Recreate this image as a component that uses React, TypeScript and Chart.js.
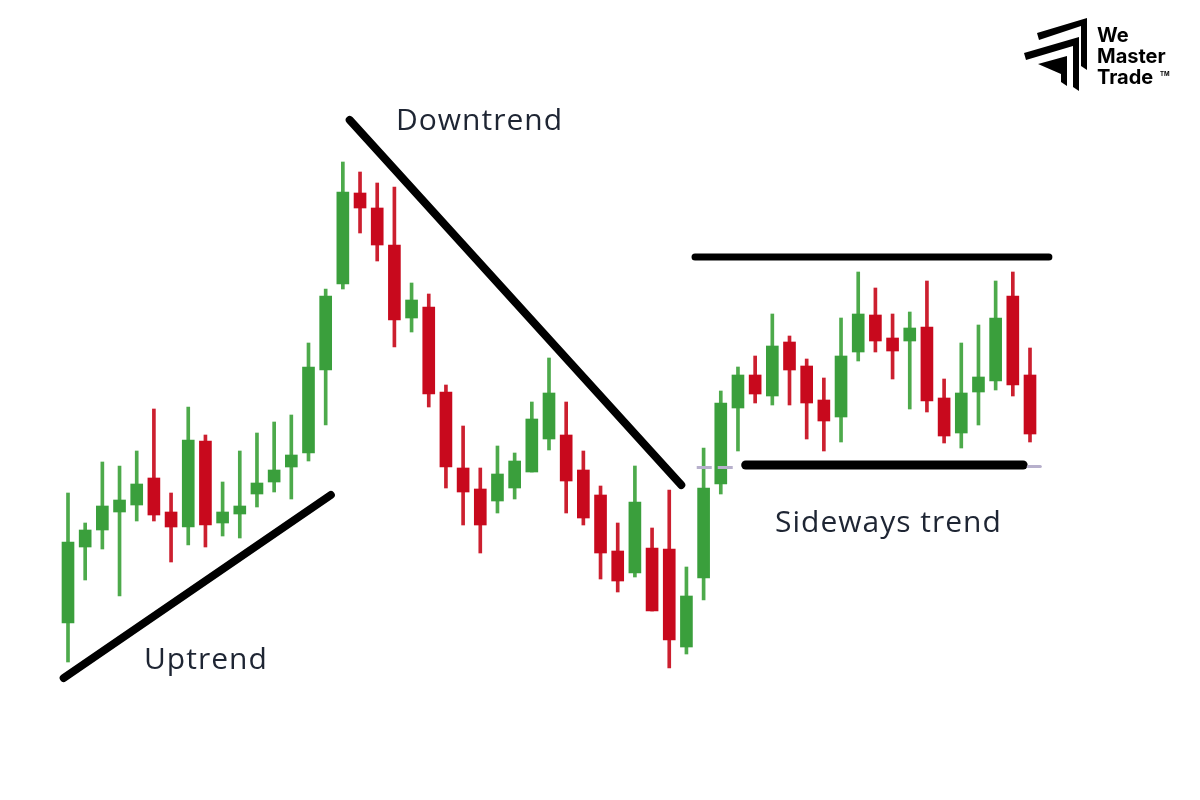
import { useEffect, useRef } from 'react';
import { Chart, registerables } from 'chart.js';

Chart.register(...registerables);

// ---- Data (price units) ----
const candleIndex: number[] = Array.from({ length: 57 }, (_, i) => i + 1);

const opens: number[] = [
  15.4, 30.6, 34.0, 37.6, 39.0, 44.4, 37.6, 34.6, 51.8, 35.4,
  37.2, 41.2, 43.6, 46.6, 49.4, 66.0, 83.2, 101.4, 98.4, 91.0,
  76.4, 78.6, 61.6, 46.4, 42.2, 39.8, 42.4, 45.6, 52.2, 53.0,
  46.0, 41.0, 29.8, 25.4, 30.4, 30.2, 10.6, 24.4, 43.2, 58.4,
  65.0, 60.8, 71.6, 66.8, 60.0, 56.6, 69.6, 77.0, 72.4, 71.8,
  74.6, 60.4, 53.4, 61.6, 63.8, 80.8, 65.0,
];
const closes: number[] = [
  31.6, 34.0, 38.8, 40.0, 43.2, 37.0, 34.6, 52.0, 35.0, 37.6,
  38.8, 43.4, 46.0, 49.0, 66.6, 80.8, 101.6, 98.4, 91.0, 76.0,
  80.0, 61.2, 46.6, 41.6, 35.0, 45.2, 47.8, 56.2, 61.4, 43.8,
  36.4, 29.4, 23.8, 39.6, 17.8, 12.0, 20.8, 42.4, 59.4, 65.0,
  61.2, 70.8, 66.0, 59.4, 55.8, 68.8, 77.2, 71.8, 69.8, 74.4,
  59.8, 52.8, 61.4, 64.6, 76.4, 63.0, 53.2,
];
const highs: number[] = [
  41.4, 35.4, 47.6, 46.8, 49.8, 58.2, 41.4, 58.6, 53.0, 43.6,
  49.8, 53.4, 55.6, 57.0, 71.4, 82.2, 107.6, 105.6, 103.4, 102.6,
  83.4, 81.2, 63.0, 54.8, 46.4, 50.8, 49.4, 59.6, 68.4, 59.6,
  49.8, 42.8, 35.4, 46.8, 34.4, 42.0, 26.6, 50.4, 61.8, 66.6,
  68.8, 77.2, 72.8, 68.2, 64.4, 76.4, 85.6, 82.4, 77.2, 77.6,
  83.8, 64.2, 71.4, 75.0, 83.8, 85.6, 70.4,
];
const lows: number[] = [
  7.6, 24.0, 30.2, 20.8, 35.8, 35.8, 27.6, 31.0, 30.6, 32.8,
  32.4, 38.6, 41.6, 40.2, 47.8, 55.0, 82.2, 93.4, 87.8, 70.6,
  73.6, 58.6, 42.4, 35.0, 29.4, 37.4, 40.2, 45.6, 50.0, 37.4,
  35.0, 24.2, 21.6, 24.6, 17.8, 6.4, 9.2, 20.0, 41.2, 49.8,
  59.4, 59.0, 59.0, 52.2, 49.8, 51.6, 67.8, 69.6, 64.2, 58.2,
  57.6, 51.4, 50.4, 55.0, 62.0, 60.8, 51.6,
];

// Trend lines: [startIndex, startPrice, endIndex, endPrice]
const uptrendLine: number[] = [0.75, 4.4, 16.3, 41.0];
const downtrendLine: number[] = [17.4, 116.0, 36.7, 43.0];
const resistanceLine: number[] = [37.5, 88.6, 58.1, 88.6];
const supportLine: number[] = [40.45, 47.0, 56.6, 47.0];
const guideDashesA: number[] = [37.6, 46.5, 39.7, 46.5];
const guideDashesB: number[] = [56.9, 46.7, 57.6, 46.7];

const labelTexts: string[] = ['Uptrend', 'Downtrend', 'Sideways trend'];
const logoWords: string[] = ['We', 'Master', 'Trade'];

const GREEN = '#3a9f3c';
const RED = '#c8091d';
const GREEN_WICK = '#4daa4b';
const RED_WICK = '#cc1f2f';

const seg = (s: number[]) => [
  { x: s[0], y: s[1] },
  { x: s[2], y: s[3] },
];

const overlayPlugin = {
  id: 'overlay',
  afterDatasetsDraw(chart: any) {
    const ctx: CanvasRenderingContext2D = chart.ctx;
    ctx.save();
    // trend labels
    ctx.fillStyle = '#1e2533';
    ctx.font = '30px "Open Sans"';
    (ctx as any).letterSpacing = '1px';
    ctx.textAlign = 'left';
    ctx.textBaseline = 'alphabetic';
    const labelPos = [
      [144, 669],
      [396, 130],
      [775, 532],
    ];
    labelTexts.forEach((t, i) => ctx.fillText(t, labelPos[i][0], labelPos[i][1]));

    // logo icon
    ctx.fillStyle = '#000';
    const poly = (pts: number[][]) => {
      ctx.beginPath();
      ctx.moveTo(pts[0][0], pts[0][1]);
      for (let i = 1; i < pts.length; i++) ctx.lineTo(pts[i][0], pts[i][1]);
      ctx.closePath();
      ctx.fill();
    };
    poly([[1037, 33], [1087, 18], [1087, 70], [1081, 66], [1081, 26], [1039, 40]]);
    poly([[1024, 53], [1079, 37], [1079, 91], [1073, 87], [1073, 46], [1026, 60]]);
    poly([[1038, 64], [1067, 56], [1067, 86], [1061, 82], [1061, 74]]);

    // logo text
    (ctx as any).letterSpacing = '0px';
    ctx.font = 'bold 20px Inter';
    ctx.fillText(logoWords[0], 1097, 42);
    ctx.fillText(logoWords[1], 1097, 63);
    ctx.fillText(logoWords[2], 1097, 84);
    ctx.font = 'bold 6px Inter';
    ctx.fillText('TM', 1160, 76);
    ctx.restore();
  },
};

export default function App() {
  const ref = useRef<HTMLCanvasElement | null>(null);

  useEffect(() => {
    if (!ref.current) return;
    const isUp = candleIndex.map((_, i) => closes[i] >= opens[i]);
    const lineDs = (s: number[], width: number, color = '#000', dash: number[] = []) => ({
      type: 'line' as const,
      data: seg(s),
      borderColor: color,
      borderWidth: width,
      borderCapStyle: dash.length ? ('butt' as const) : ('round' as const),
      borderDash: dash,
      pointRadius: 0,
      fill: false,
      order: 0,
    });
    const chart = new Chart(ref.current, {
      type: 'bar',
      data: {
        datasets: [
          {
            type: 'bar',
            data: candleIndex.map((x, i) => ({ x, y: [lows[i], highs[i]] })) as any,
            backgroundColor: isUp.map((u) => (u ? GREEN_WICK : RED_WICK)),
            barThickness: 3,
            grouped: false,
            borderWidth: 0,
            order: 2,
          } as any,
          {
            type: 'bar',
            data: candleIndex.map((x, i) => ({ x, y: [opens[i], closes[i]] })) as any,
            backgroundColor: isUp.map((u) => (u ? GREEN : RED)),
            barThickness: 12,
            grouped: false,
            borderWidth: 0,
            order: 1,
          } as any,
          lineDs(guideDashesA, 3, '#b7b0cc', [15, 6]) as any,
          lineDs(guideDashesB, 3, '#b7b0cc') as any,
          lineDs(uptrendLine, 8) as any,
          lineDs(downtrendLine, 8) as any,
          lineDs(resistanceLine, 7) as any,
          lineDs(supportLine, 9) as any,
        ],
      },
      options: {
        responsive: false,
        animation: false,
        devicePixelRatio: 1,
        layout: { padding: 0 },
        plugins: {
          legend: { display: false },
          tooltip: { enabled: false },
          title: { display: false },
        },
        scales: {
          x: { type: 'linear', display: false, offset: false, min: -2.9584, max: 66.896 },
          y: { type: 'linear', display: false, min: -20, max: 140 },
        },
      },
      plugins: [overlayPlugin],
    });
    return () => chart.destroy();
  }, []);

  return (
    <div style={{ position: 'absolute', left: 0, top: 0, width: 1200, height: 800, background: '#fff' }}>
      <canvas ref={ref} width={1200} height={800} style={{ display: 'block' }} />
    </div>
  );
}
